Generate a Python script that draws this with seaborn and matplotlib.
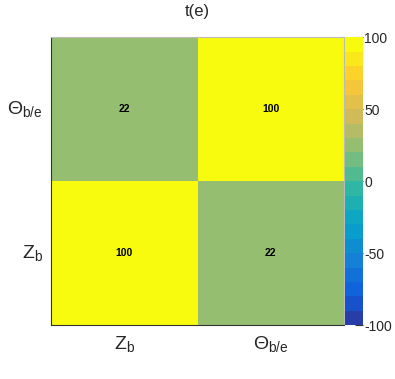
import numpy as np
import pandas as pd
import matplotlib
matplotlib.use('Agg')
import matplotlib.pyplot as plt
from matplotlib.colors import LinearSegmentedColormap, ListedColormap
import seaborn as sns

# chart data
var_labels = [r'$\mathrm{Z}_{\mathrm{b}}$', r'$\Theta_{\mathrm{b/e}}$']
corr_values = [[100, 22],
               [22, 100]]
cbar_ticks = [-100, -50, 0, 50, 100]
title = 't(e)'

sns.set_style('white')
plt.rcParams['font.family'] = ['Liberation Sans', 'DejaVu Sans']
plt.rcParams['mathtext.fontset'] = 'custom'
plt.rcParams['mathtext.rm'] = 'Liberation Sans'
plt.rcParams['mathtext.it'] = 'Liberation Sans:italic'

# ROOT kBird palette (255 colours), picked the way ROOT picks 20 contour levels
stops = [0.0, 0.125, 0.25, 0.375, 0.5, 0.625, 0.75, 0.875, 1.0]
red = [0.2082, 0.0592, 0.0780, 0.0232, 0.1802, 0.5301, 0.8186, 0.9956, 0.9764]
green = [0.1664, 0.3599, 0.5041, 0.6419, 0.7178, 0.7492, 0.7328, 0.7862, 0.9832]
blue = [0.5293, 0.8684, 0.8385, 0.7914, 0.6425, 0.4662, 0.3499, 0.1968, 0.0539]
bird = LinearSegmentedColormap.from_list(
    'bird', list(zip(stops, zip(red, green, blue))), N=255)
ndiv = 20
levels = [int((i + 0.99) * 255 / ndiv) / 254 for i in range(ndiv)]
cmap = ListedColormap(bird(levels))

# rows top -> bottom (y axis runs upward in the original)
df = pd.DataFrame(corr_values, index=var_labels, columns=var_labels)
df = df.iloc[::-1]

fig = plt.figure(figsize=(3.95, 3.79), dpi=100)
ax = fig.add_axes([0.129, 0.142, 0.742, 0.760])
cax = fig.add_axes([0.874, 0.142, 0.045, 0.760])

sns.heatmap(df, ax=ax, cbar_ax=cax, cmap=cmap, vmin=-100, vmax=100,
            annot=True, fmt='d',
            annot_kws={'fontsize': 7.5, 'fontweight': 'bold', 'color': 'black'})

ax.set_title(title, fontsize=12, pad=15)
ax.tick_params(axis='both', length=0, labelsize=14, pad=6)
ax.set_yticklabels(df.index, rotation=0)
ax.set_xticklabels(df.columns, rotation=0)
ax.set_xticks([1], minor=True)
ax.set_yticks([1], minor=True)
ax.tick_params(which='minor', direction='in', length=5, color='#333333')
for s in ax.spines.values():
    s.set_visible(True)
    s.set_linewidth(0.8)
    s.set_color('#333333')
ax.spines['top'].set_color('#bbbbbb')
ax.spines['right'].set_color('#bbbbbb')

cax.set_yticks(cbar_ticks)
cax.set_yticklabels([str(t) for t in cbar_ticks])
cax.tick_params(direction='in', length=6, labelsize=10, pad=1, color='#333333')

fig.savefig('out.png', dpi=100)
